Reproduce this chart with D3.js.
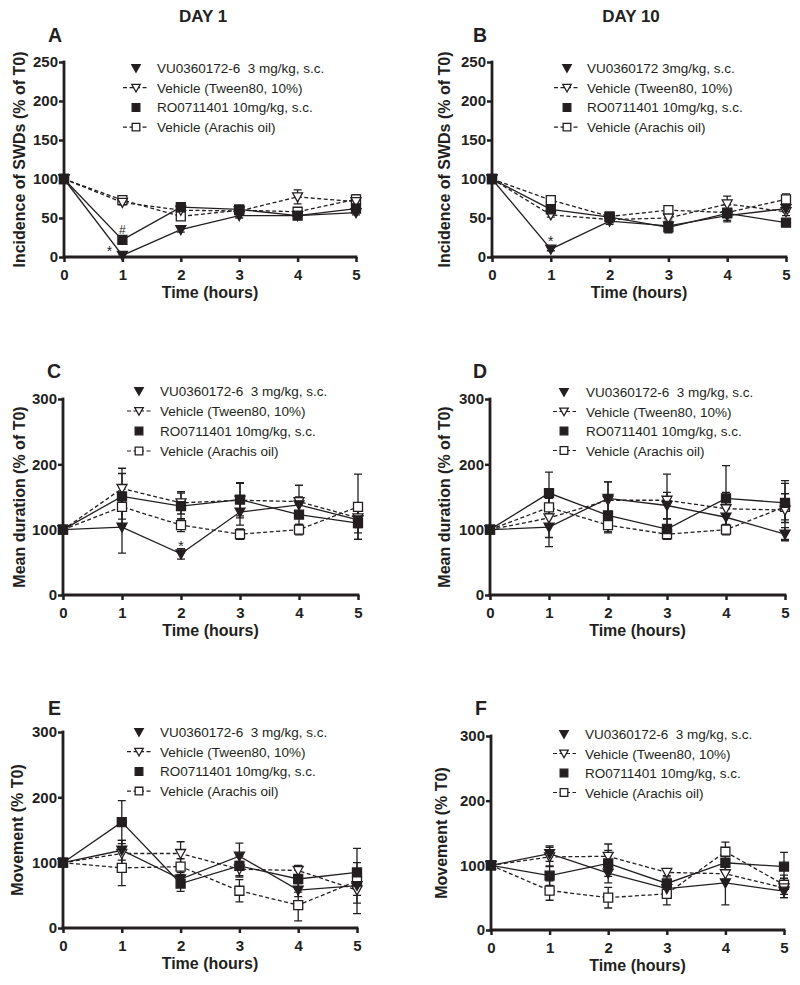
<!DOCTYPE html>
<html><head><meta charset="utf-8">
<script src="https://cdn.jsdelivr.net/npm/d3@7"></script>
<style>
body{margin:0;background:#fff}
svg{display:block}
text{font-family:"Liberation Sans",Arial,Helvetica,sans-serif;fill:#231f20}
</style>
</head><body>
<svg id="c" width="800" height="985"></svg>
<script>
// ---------------- DATA ----------------
const timeHours = [0, 1, 2, 3, 4, 5];
const dayTitles = ["DAY 1", "DAY 10"];
const seriesKeys = ["VU", "Tween", "RO", "Arachis"];
const legendLabels = ["VU0360172-6  3 mg/kg, s.c.", "Vehicle (Tween80, 10%)", "RO0711401 10mg/kg, s.c.", "Vehicle (Arachis oil)"];
const legendLabelsB = ["VU0360172 3mg/kg, s.c.", "Vehicle (Tween80, 10%)", "RO0711401 10mg/kg, s.c.", "Vehicle (Arachis oil)"];
const ticksIncidence = [0, 50, 100, 150, 200, 250];
const ticksPercent = [0, 100, 200, 300];

// Panel A: incidence of SWDs, day 1
const incD1_VU      = [100, 2, 35, 53, 53, 57];
const incD1_Tween   = [100, 70, 60, 59, 77, 71];
const incD1_RO      = [100, 22, 64, 61, 53, 62];
const incD1_Arachis = [100, 73, 52, 60, 58, 74];
const incD1_VU_err      = [0, 2, 3, 3, 3, 3];
const incD1_Tween_err   = [0, 3, 3, 3, 9, 4];
const incD1_RO_err      = [0, 3, 5, 3, 3, 4];
const incD1_Arachis_err = [0, 3, 5, 3, 5, 6];

// Panel B: incidence of SWDs, day 10
const incD10_VU      = [100, 10, 46, 40, 53, 62];
const incD10_Tween   = [100, 54, 48, 50, 68, 58];
const incD10_RO      = [100, 61, 51, 38, 56, 44];
const incD10_Arachis = [100, 73, 52, 60, 57, 74];
const incD10_VU_err      = [0, 2, 4, 9, 6, 4];
const incD10_Tween_err   = [0, 3, 4, 4, 10, 5];
const incD10_RO_err      = [0, 4, 4, 6, 11, 4];
const incD10_Arachis_err = [0, 4, 3, 3, 5, 7];

// Panel C: mean duration, day 1
const durD1_VU      = [100, 104, 63, 127, 138, 115];
const durD1_Tween   = [100, 163, 141, 145, 143, 118];
const durD1_RO      = [100, 151, 136, 146, 123, 110];
const durD1_Arachis = [100, 135, 107, 93, 100, 135];
const durD1_VU_err      = [0, 40, 8, 20, 12, 20];
const durD1_Tween_err   = [0, 31, 17, 27, 25, 15];
const durD1_RO_err      = [0, 35, 20, 25, 15, 25];
const durD1_Arachis_err = [0, 30, 10, 8, 8, 50];

// Panel D: mean duration, day 10
const durD10_VU      = [100, 104, 148, 137, 119, 93];
const durD10_Tween   = [100, 118, 145, 145, 132, 130];
const durD10_RO      = [100, 156, 122, 101, 148, 141];
const durD10_Arachis = [100, 134, 107, 93, 100, 135];
const durD10_VU_err      = [0, 30, 25, 20, 15, 10];
const durD10_Tween_err   = [0, 30, 28, 40, 25, 45];
const durD10_RO_err      = [0, 32, 25, 15, 50, 30];
const durD10_Arachis_err = [0, 25, 12, 8, 8, 20];

// Panel E: movement, day 1
const movD1_VU      = [100, 119, 75, 110, 58, 65];
const movD1_Tween   = [100, 114, 114, 90, 88, 58];
const movD1_RO      = [100, 162, 68, 95, 75, 85];
const movD1_Arachis = [100, 92, 94, 57, 35, 72];
const movD1_VU_err      = [0, 15, 10, 20, 10, 15];
const movD1_Tween_err   = [0, 20, 18, 12, 8, 20];
const movD1_RO_err      = [0, 33, 12, 15, 20, 15];
const movD1_Arachis_err = [0, 27, 12, 17, 24, 50];

// Panel F: movement, day 10
const movD10_VU      = [100, 118, 88, 64, 73, 60];
const movD10_Tween   = [100, 113, 114, 89, 87, 65];
const movD10_RO      = [100, 84, 103, 72, 104, 98];
const movD10_Arachis = [100, 61, 50, 56, 121, 70];
const movD10_VU_err      = [0, 12, 15, 10, 34, 10];
const movD10_Tween_err   = [0, 15, 19, 5, 10, 15];
const movD10_RO_err      = [0, 15, 20, 10, 15, 22];
const movD10_Arachis_err = [0, 15, 16, 17, 15, 15];

// significance marks: [panel, series index, time, text]
const annotations = [
  ["A", 0, 1, "*"], ["A", 2, 1, "#"], ["B", 0, 1, "*"], ["C", 0, 2, "*"]
];

// ---------------- LAYOUT ----------------
const ink = "#231f20";
const svg = d3.select("#c");

const panels = [
  {id:"A", x0:64, x1:356, yb:257, yt:62, ymax:250, ticks:ticksIncidence, title:"Incidence of SWDs (% of T0)", titleX:25, letterX:48, letterY:42,
   leg:{l0:123, l1:149, sym:136, tx:157, base:73, step:19.7}, labels:legendLabels,
   vals:[incD1_VU, incD1_Tween, incD1_RO, incD1_Arachis], errs:[incD1_VU_err, incD1_Tween_err, incD1_RO_err, incD1_Arachis_err]},
  {id:"B", x0:492, x1:786, yb:257, yt:62, ymax:250, ticks:ticksIncidence, title:"Incidence of SWDs (% of T0)", titleX:450, letterX:473, letterY:42,
   leg:{l0:554, l1:578, sym:567, tx:587, base:73, step:19.7}, labels:legendLabelsB,
   vals:[incD10_VU, incD10_Tween, incD10_RO, incD10_Arachis], errs:[incD10_VU_err, incD10_Tween_err, incD10_RO_err, incD10_Arachis_err]},
  {id:"C", x0:63, x1:358, yb:595, yt:399, ymax:300, ticks:ticksPercent, title:"Mean duration (% of T0)", titleX:25, letterX:47, letterY:378,
   leg:{l0:127, l1:151, sym:139, tx:160, base:396, step:20}, labels:legendLabels,
   vals:[durD1_VU, durD1_Tween, durD1_RO, durD1_Arachis], errs:[durD1_VU_err, durD1_Tween_err, durD1_RO_err, durD1_Arachis_err]},
  {id:"D", x0:490, x1:785, yb:595, yt:399, ymax:300, ticks:ticksPercent, title:"Mean duration (% of T0)", titleX:450, letterX:473, letterY:378,
   leg:{l0:553, l1:576, sym:564, tx:586, base:397, step:19.5}, labels:legendLabels,
   vals:[durD10_VU, durD10_Tween, durD10_RO, durD10_Arachis], errs:[durD10_VU_err, durD10_Tween_err, durD10_RO_err, durD10_Arachis_err]},
  {id:"E", x0:63, x1:357, yb:928, yt:732, ymax:300, ticks:ticksPercent, title:"Movement (% T0)", titleX:23, letterX:48, letterY:715,
   leg:{l0:127, l1:151, sym:139, tx:160, base:737, step:19.7}, labels:legendLabels,
   vals:[movD1_VU, movD1_Tween, movD1_RO, movD1_Arachis], errs:[movD1_VU_err, movD1_Tween_err, movD1_RO_err, movD1_Arachis_err]},
  {id:"F", x0:491, x1:784, yb:930, yt:736, ymax:300, ticks:ticksPercent, title:"Movement (% T0)", titleX:447, letterX:475, letterY:715,
   leg:{l0:553, l1:576, sym:564, tx:585, base:739, step:19.5}, labels:legendLabels,
   vals:[movD10_VU, movD10_Tween, movD10_RO, movD10_Arachis], errs:[movD10_VU_err, movD10_Tween_err, movD10_RO_err, movD10_Arachis_err]}
];

const styles = [
  {fill:ink, dash:null, shape:"tri"},
  {fill:"#fff", dash:"4,2.5", shape:"tri"},
  {fill:ink, dash:null, shape:"sq"},
  {fill:"#fff", dash:"4,2.5", shape:"sq"}
];
const triPath = "M-5,-4L5,-4L0,5Z";
const sqPath = "M-4.5,-4.5H4.5V4.5H-4.5Z";

function marker(g, shape, fill, x, y, s) {
  g.append("path").attr("d", shape === "tri" ? triPath : sqPath)
    .attr("transform", `translate(${x},${y}) scale(${s || 1})`)
    .attr("fill", fill).attr("stroke", ink).attr("stroke-width", 1.3 / (s || 1));
}

// day titles
svg.append("text").attr("x", 203).attr("y", 22).attr("text-anchor", "middle")
  .attr("font-size", 17).attr("font-weight", "bold").text(dayTitles[0]);
svg.append("text").attr("x", 631).attr("y", 22).attr("text-anchor", "middle")
  .attr("font-size", 17).attr("font-weight", "bold").text(dayTitles[1]);

panels.forEach(p => {
  const x = d3.scaleLinear().domain([0, 5]).range([p.x0, p.x1]);
  const y = d3.scaleLinear().domain([0, p.ymax]).range([p.yb, p.yt]);
  const g = svg.append("g");

  // panel letter
  g.append("text").attr("x", p.letterX).attr("y", p.letterY).attr("font-size", 19.5)
    .attr("font-weight", "bold").text(p.id);

  // axes
  const ya = g.append("g").attr("transform", `translate(${p.x0},0)`)
    .call(d3.axisLeft(y).tickValues(p.ticks).tickSize(5).tickPadding(1).tickFormat(d3.format("d")));
  const xa = g.append("g").attr("transform", `translate(0,${p.yb})`)
    .call(d3.axisBottom(x).tickValues(timeHours).tickSize(5).tickPadding(7).tickFormat(d3.format("d")));
  [ya, xa].forEach(a => {
    a.select(".domain").attr("stroke", ink).attr("stroke-width", 2.8).attr("stroke-linecap", "square");
    a.selectAll(".tick line").attr("stroke", ink).attr("stroke-width", 2.5);
    a.selectAll(".tick text").attr("font-size", 15).attr("font-weight", "bold")
      .attr("font-family", '"Liberation Sans",Arial,sans-serif').attr("fill", ink);
  });
  ya.select(".domain").attr("d", `M0,${p.yb}V${p.yt}`);
  xa.select(".domain").attr("d", `M${p.x0},0H${p.x1}`);

  // axis titles
  g.append("text").attr("x", (p.x0 + p.x1) / 2).attr("y", p.yb + 41).attr("text-anchor", "middle")
    .attr("font-size", 16).attr("font-weight", "bold").text("Time (hours)");
  g.append("text").attr("transform", `translate(${p.titleX},${(p.yb + p.yt) / 2}) rotate(-90)`)
    .attr("text-anchor", "middle").attr("font-size", 16).attr("font-weight", "bold").text(p.title);

  // lines
  const line = d3.line().x((d, i) => x(timeHours[i])).y(d => y(d));
  p.vals.forEach((v, k) => {
    g.append("path").attr("d", line(v)).attr("fill", "none").attr("stroke", ink)
      .attr("stroke-width", 1.3).attr("stroke-dasharray", styles[k].dash);
  });
  // error bars
  p.vals.forEach((v, k) => {
    v.forEach((val, i) => {
      const e = p.errs[k][i];
      if (!e) return;
      const cx = x(timeHours[i]);
      const a = y(val + e), b = y(Math.max(0, val - e));
      g.append("path").attr("d", `M${cx},${a}V${b}M${cx - 4},${a}H${cx + 4}M${cx - 4},${b}H${cx + 4}`)
        .attr("stroke", ink).attr("stroke-width", 1.3).attr("fill", "none");
    });
  });
  // markers: open first, filled on top
  [3, 1, 2, 0].forEach(k => {
    p.vals[k].forEach((val, i) => marker(g, styles[k].shape, styles[k].fill, x(timeHours[i]), y(val)));
  });

  // legend
  p.labels.forEach((lab, k) => {
    const base = p.leg.base + k * p.leg.step;
    const cy = base - 5;
    if (styles[k].dash) {
      g.append("line").attr("x1", p.leg.l0).attr("x2", p.leg.l1).attr("y1", cy).attr("y2", cy)
        .attr("stroke", ink).attr("stroke-width", 1.2).attr("stroke-dasharray", styles[k].dash);
    }
    marker(g, styles[k].shape, styles[k].fill, p.leg.sym, cy, 0.85);
    g.append("text").attr("x", p.leg.tx).attr("y", base).attr("font-size", 13.5)
      .attr("xml:space", "preserve").style("white-space", "pre").text(lab);
  });

  // annotations
  annotations.filter(a => a[0] === p.id).forEach(a => {
    const k = a[1], t = a[2], v = p.vals[k][t];
    let tx = x(t), ty;
    if (p.id === "A" && a[3] === "*") { tx = x(t) - 13; ty = y(v) + 1; }
    else if (a[3] === "#") { ty = y(v) - 6; }
    else { ty = y(v) - 3; }
    g.append("text").attr("x", tx).attr("y", ty).attr("text-anchor", "middle")
      .attr("font-size", a[3] === "#" ? 12 : 14).text(a[3]);
  });
});
</script>
</body></html>
